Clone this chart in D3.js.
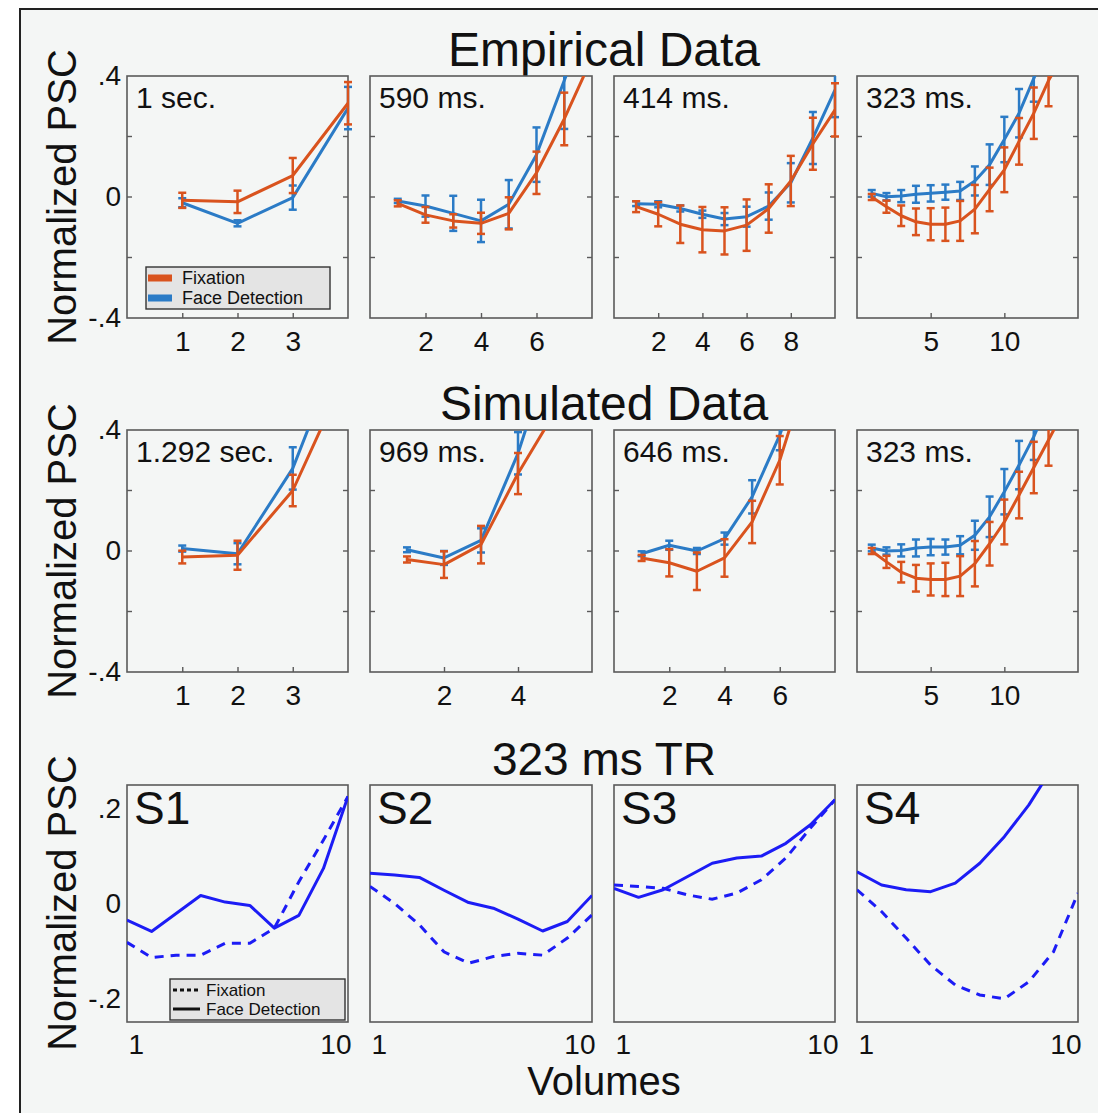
<!DOCTYPE html>
<html><head><meta charset="utf-8">
<script src="https://cdn.jsdelivr.net/npm/d3@7"></script>
<style>
body{margin:0;background:#fff}
svg{display:block}
text{font-family:"Liberation Sans",Arial,Helvetica,sans-serif;fill:#111}
</style>
</head><body>
<svg id="c" width="1098" height="1113"></svg>
<script>
// ---------- DATA ----------
const rowTitles = ["Empirical Data", "Simulated Data", "323 ms TR"];
const yLabel = "Normalized PSC";
const xLabel = "Volumes";
const seriesNames = ["Fixation", "Face Detection"];

// Empirical
const empLabels = ["1 sec.", "590 ms.", "414 ms.", "323 ms."];
const empDomains = [[0,4],[0,8],[0,10],[0,15]];
const empTicks = [[1,2,3],[2,4,6],[2,4,6,8],[5,10]];

const emp1Vol = [1,2,3,4];
const emp1Fix = [-0.011,-0.016,0.071,0.31];
const emp1FixErr = [0.025,0.037,0.058,0.07];
const emp1Face = [-0.019,-0.087,-0.002,0.294];
const emp1FaceErr = [0.015,0.01,0.04,0.07];

const emp2Vol = [1,2,3,4,5,6,7,8];
const emp2Fix = [-0.021,-0.059,-0.079,-0.087,-0.054,0.08,0.258,0.46];
const emp2FixErr = [0.01,0.026,0.022,0.035,0.053,0.07,0.087,0.09];
const emp2Face = [-0.013,-0.03,-0.054,-0.079,-0.024,0.14,0.385,0.62];
const emp2FaceErr = [0.007,0.035,0.058,0.07,0.08,0.09,0.16,0.1];

const emp3Vol = [1,2,3,4,5,6,7,8,9,10];
const emp3Fix = [-0.032,-0.057,-0.09,-0.108,-0.112,-0.093,-0.038,0.053,0.176,0.288];
const emp3FixErr = [0.018,0.04,0.062,0.075,0.078,0.085,0.08,0.083,0.086,0.088];
const emp3Face = [-0.022,-0.024,-0.038,-0.057,-0.073,-0.065,-0.03,0.047,0.195,0.354];
const emp3FaceErr = [0.008,0.01,0.01,0.012,0.02,0.033,0.045,0.065,0.086,0.09];

const emp4Vol = [1,2,3,4,5,6,7,8,9,10,11,12,13,14];
const emp4Fix = [0.0,-0.032,-0.062,-0.082,-0.09,-0.09,-0.079,-0.04,0.025,0.09,0.184,0.277,0.385,0.47];
const emp4FixErr = [0.01,0.02,0.034,0.044,0.053,0.055,0.066,0.08,0.072,0.074,0.077,0.085,0.085,0.09];
const emp4Face = [0.012,0.001,0.003,0.009,0.012,0.016,0.02,0.053,0.107,0.19,0.277,0.392,0.5];
const emp4FaceErr = [0.011,0.012,0.02,0.028,0.027,0.025,0.03,0.048,0.067,0.075,0.08,0.077,0.08];

// Simulated
const simLabels = ["1.292 sec.", "969 ms.", "646 ms.", "323 ms."];
const simDomains = [[0,4],[0,6],[0,8],[0,15]];
const simTicks = [[1,2,3],[2,4],[2,4,6],[5,10]];

const sim1Vol = [1,2,3,4];
const sim1Fix = [-0.02,-0.014,0.2,0.6];
const sim1FixErr = [0.021,0.048,0.052,0.06];
const sim1Face = [0.008,-0.009,0.273,0.74];
const sim1FaceErr = [0.01,0.035,0.07,0.07];

const sim2Vol = [1,2,3,4,5];
const sim2Fix = [-0.028,-0.045,0.021,0.256,0.46];
const sim2FixErr = [0.01,0.044,0.062,0.068,0.07];
const sim2Face = [0.004,-0.023,0.035,0.323,0.7];
const sim2FaceErr = [0.008,0.023,0.04,0.07,0.07];

const sim3Vol = [1,2,3,4,5,6,7];
const sim3Fix = [-0.023,-0.039,-0.067,-0.023,0.096,0.3,0.59];
const sim3FixErr = [0.01,0.045,0.062,0.062,0.07,0.08,0.08];
const sim3Face = [-0.009,0.019,0.0,0.041,0.179,0.383,0.65];
const sim3FaceErr = [0.008,0.015,0.01,0.02,0.055,0.05,0.06];

const sim4Vol = [1,2,3,4,5,6,7,8,9,10,11,12,13,14];
const sim4Fix = [0.0,-0.036,-0.07,-0.09,-0.094,-0.094,-0.083,-0.042,0.024,0.096,0.185,0.276,0.367,0.46];
const sim4FixErr = [0.01,0.02,0.034,0.044,0.053,0.055,0.066,0.075,0.072,0.074,0.077,0.085,0.085,0.09];
const sim4Face = [0.01,0.0,0.002,0.01,0.013,0.013,0.019,0.052,0.113,0.196,0.284,0.378,0.49];
const sim4FaceErr = [0.011,0.012,0.02,0.028,0.027,0.025,0.03,0.048,0.067,0.075,0.08,0.077,0.08];

// Subjects, 323 ms TR
const subjLabels = ["S1","S2","S3","S4"];
const subjVol = [1,2,3,4,5,6,7,8,9,10];
const s1Fix  = [-0.082,-0.114,-0.109,-0.109,-0.084,-0.084,-0.052,0.046,0.134,0.226];
const s1Face = [-0.035,-0.059,-0.021,0.017,0.003,-0.004,-0.052,-0.025,0.074,0.226];
const s2Fix  = [0.036,0.0,-0.045,-0.102,-0.126,-0.112,-0.105,-0.109,-0.073,-0.024];
const s2Face = [0.064,0.06,0.055,0.028,0.002,-0.01,-0.033,-0.058,-0.038,0.017];
const s3Fix  = [0.039,0.036,0.032,0.018,0.009,0.022,0.05,0.096,0.159,0.219];
const s3Face = [0.032,0.013,0.029,0.057,0.085,0.096,0.1,0.127,0.166,0.219];
const s4Fix  = [0.029,-0.017,-0.073,-0.13,-0.172,-0.193,-0.201,-0.165,-0.102,0.022];
const s4Face = [0.067,0.039,0.029,0.025,0.043,0.085,0.141,0.208,0.29,0.38];

const errYTicks = [-0.4, 0, 0.4];
const errYTickLabels = ["-.4", "0", ".4"];
const errYInner = [-0.2, 0, 0.2];
const subjYTicks = [-0.2, 0, 0.2];
const subjYTickLabels = ["-.2", "0", ".2"];
const subjXTicks = [1, 10];

// ---------- STYLE / LAYOUT ----------
const colFix = "#d9531e", colFace = "#2b7bc6", colSubj = "#1c1cf5";
const colX = [[127,348],[370,592],[614,835],[857,1078]];
const rowY = [[76,318],[430,672],[785,1022]];

const svg = d3.select("#c");
svg.append("rect").attr("x",20).attr("y",9).attr("width",1100).attr("height",1120)
  .attr("fill","#f4f6f5").attr("stroke","#222").attr("stroke-width",2);

const defs = svg.append("defs");
let clipId = 0;

function frame(g, x0, x1, y0, y1) {
  g.append("rect").attr("x",x0).attr("y",y0).attr("width",x1-x0).attr("height",y1-y0)
    .attr("fill","#f4f6f5").attr("stroke","#5a5a5a").attr("stroke-width",1.6);
}
function clip(x0,x1,y0,y1){
  const id = "cl"+(clipId++);
  defs.append("clipPath").attr("id",id).append("rect")
    .attr("x",x0-6).attr("y",y0).attr("width",x1-x0+12).attr("height",y1-y0);
  return "url(#"+id+")";
}

function errPanel(r, c, p) {
  const [x0,x1] = colX[c], [y0,y1] = rowY[r];
  const g = svg.append("g");
  frame(g,x0,x1,y0,y1);
  const x = d3.scaleLinear().domain(p.domain).range([x0,x1]);
  const y = d3.scaleLinear().domain([-0.4,0.4]).range([y1,y0]);
  errYInner.forEach(v=>{
    g.append("line").attr("x1",x0).attr("x2",x0+5).attr("y1",y(v)).attr("y2",y(v)).attr("stroke","#5a5a5a").attr("stroke-width",1.4);
    g.append("line").attr("x1",x1-5).attr("x2",x1).attr("y1",y(v)).attr("y2",y(v)).attr("stroke","#5a5a5a").attr("stroke-width",1.4);
  });
  const ax = g.append("g").attr("transform",`translate(0,${y1})`)
    .call(d3.axisBottom(x).tickValues(p.ticks).tickFormat(d3.format("d")).tickSizeInner(-5).tickSizeOuter(0).tickPadding(13));
  ax.select(".domain").remove();
  ax.selectAll(".tick line").attr("stroke","#5a5a5a").attr("stroke-width",1.4);
  ax.selectAll(".tick text").attr("font-size",28).attr("font-family","Liberation Sans, Arial, sans-serif").attr("fill","#111");
  if (c===0) {
    const ay = g.append("g").attr("transform",`translate(${x0},0)`)
      .call(d3.axisLeft(y).tickValues(errYTicks).tickFormat((d,i)=>errYTickLabels[i]).tickSize(0).tickPadding(6));
    ay.select(".domain").remove();
    ay.selectAll(".tick text").attr("font-size",28).attr("font-family","Liberation Sans, Arial, sans-serif").attr("fill","#111");
  }
  const data = g.append("g").attr("clip-path", clip(x0,x1,y0,y1));
  const series = [
    {v:p.face, e:p.faceErr, col:colFace},
    {v:p.fix, e:p.fixErr, col:colFix}
  ];
  series.forEach(s=>{
    const pts = s.v.map((v,i)=>({x:p.vol[i], v, e:s.e[i]}));
    const lineClip = data.append("g").attr("clip-path", clip(x0+6,x1-6,y0,y1));
    lineClip.append("path").datum(pts)
      .attr("d", d3.line().x(d=>x(d.x)).y(d=>y(d.v)))
      .attr("fill","none").attr("stroke",s.col).attr("stroke-width",3).attr("stroke-linejoin","round");
    const eb = data.selectAll(null).data(pts.filter(d=>d.x <= p.domain[1] && d.v <= 0.42)).enter().append("g");
    eb.append("line").attr("x1",d=>x(d.x)).attr("x2",d=>x(d.x))
      .attr("y1",d=>y(d.v-d.e)).attr("y2",d=>y(d.v+d.e)).attr("stroke",s.col).attr("stroke-width",2.5);
    [-1,1].forEach(sg=>{
      eb.append("line").attr("x1",d=>x(d.x)-4).attr("x2",d=>x(d.x)+4)
        .attr("y1",d=>y(d.v+sg*d.e)).attr("y2",d=>y(d.v+sg*d.e)).attr("stroke",s.col).attr("stroke-width",2.5);
    });
  });
  g.append("text").attr("x",x0+9).attr("y",y0+32).attr("font-size",30).text(p.label);
  return g;
}

function subjPanel(c, label, fix, face) {
  const r = 2;
  const [x0,x1] = colX[c], [y0,y1] = rowY[r];
  const g = svg.append("g");
  frame(g,x0,x1,y0,y1);
  const x = d3.scaleLinear().domain([1,10]).range([x0,x1]);
  const y = d3.scaleLinear().domain([-0.25,0.25]).range([y1,y0]);
  const ax = g.append("g").attr("transform",`translate(0,${y1})`)
    .call(d3.axisBottom(x).tickValues(subjXTicks).tickFormat(d3.format("d")).tickSize(0).tickPadding(12));
  ax.select(".domain").remove();
  ax.selectAll(".tick text").attr("font-size",28).attr("font-family","Liberation Sans, Arial, sans-serif").attr("fill","#111")
    .attr("text-anchor",d=>d===1?"start":"end").attr("dx",d=>d===1?1:3);
  if (c===0) {
    const ay = g.append("g").attr("transform",`translate(${x0},0)`)
      .call(d3.axisLeft(y).tickValues(subjYTicks).tickFormat((d,i)=>subjYTickLabels[i]).tickSize(0).tickPadding(6));
    ay.select(".domain").remove();
    ay.selectAll(".tick text").attr("font-size",28).attr("font-family","Liberation Sans, Arial, sans-serif").attr("fill","#111");
  }
  const data = g.append("g").attr("clip-path", clip(x0+6,x1-6,y0,y1));
  const line = d3.line().x((d,i)=>x(subjVol[i])).y(d=>y(d));
  data.append("path").datum(fix).attr("d",line).attr("fill","none").attr("stroke",colSubj)
    .attr("stroke-width",3).attr("stroke-dasharray","9,7");
  data.append("path").datum(face).attr("d",line).attr("fill","none").attr("stroke",colSubj)
    .attr("stroke-width",3).attr("stroke-linejoin","round");
  g.append("text").attr("x",x0+7).attr("y",y0+39).attr("font-size",46).text(label);
  return g;
}

// Row titles
const titleY = [66, 420, 775];
rowTitles.forEach((t,i)=>{
  svg.append("text").attr("x",604).attr("y",titleY[i]).attr("text-anchor","middle").attr("font-size",i===2?46:48).text(t);
});
const yLabCy = [197, 551, 903];
yLabCy.forEach(cy=>{
  svg.append("text").attr("transform",`translate(76,${cy}) rotate(-90)`).attr("text-anchor","middle")
    .attr("font-size",40).text(yLabel);
});
svg.append("text").attr("x",604).attr("y",1095).attr("text-anchor","middle").attr("font-size",40).text(xLabel);

const empPanels = [
  {vol:emp1Vol, fix:emp1Fix, fixErr:emp1FixErr, face:emp1Face, faceErr:emp1FaceErr},
  {vol:emp2Vol, fix:emp2Fix, fixErr:emp2FixErr, face:emp2Face, faceErr:emp2FaceErr},
  {vol:emp3Vol, fix:emp3Fix, fixErr:emp3FixErr, face:emp3Face, faceErr:emp3FaceErr},
  {vol:emp4Vol, fix:emp4Fix, fixErr:emp4FixErr, face:emp4Face, faceErr:emp4FaceErr}
];
const simPanels = [
  {vol:sim1Vol, fix:sim1Fix, fixErr:sim1FixErr, face:sim1Face, faceErr:sim1FaceErr},
  {vol:sim2Vol, fix:sim2Fix, fixErr:sim2FixErr, face:sim2Face, faceErr:sim2FaceErr},
  {vol:sim3Vol, fix:sim3Fix, fixErr:sim3FixErr, face:sim3Face, faceErr:sim3FaceErr},
  {vol:sim4Vol, fix:sim4Fix, fixErr:sim4FixErr, face:sim4Face, faceErr:sim4FaceErr}
];
empPanels.forEach((p,i)=>errPanel(0,i,Object.assign({label:empLabels[i], domain:empDomains[i], ticks:empTicks[i]},p)));
simPanels.forEach((p,i)=>errPanel(1,i,Object.assign({label:simLabels[i], domain:simDomains[i], ticks:simTicks[i]},p)));
const subjFix = [s1Fix,s2Fix,s3Fix,s4Fix], subjFace = [s1Face,s2Face,s3Face,s4Face];
subjLabels.forEach((l,i)=>subjPanel(i,l,subjFix[i],subjFace[i]));

// Legend row 1
const lg = svg.append("g");
lg.append("rect").attr("x",146).attr("y",267).attr("width",184).attr("height",42)
  .attr("fill","#e4e4e4").attr("stroke","#333").attr("stroke-width",1.4);
[[colFix,278],[colFace,298]].forEach(([c,yy],i)=>{
  lg.append("rect").attr("x",148).attr("y",yy-3.5).attr("width",24).attr("height",7).attr("fill",c);
  lg.append("text").attr("x",182).attr("y",yy+6).attr("font-size",18).attr("fill","#222").text(seriesNames[i]);
});
// Legend row 3
const lg3 = svg.append("g");
lg3.append("rect").attr("x",170).attr("y",979).attr("width",175).attr("height",41)
  .attr("fill","#e4e4e4").attr("stroke","#333").attr("stroke-width",1.4);
[["4,3",990],[null,1009]].forEach(([dash,yy],i)=>{
  const l = lg3.append("line").attr("x1",173).attr("x2",200).attr("y1",yy).attr("y2",yy)
    .attr("stroke","#111").attr("stroke-width",3);
  if (dash) l.attr("stroke-dasharray",dash);
  lg3.append("text").attr("x",206).attr("y",yy+5.5).attr("font-size",17).attr("fill","#222").text(seriesNames[i]);
});
</script>
</body></html>
